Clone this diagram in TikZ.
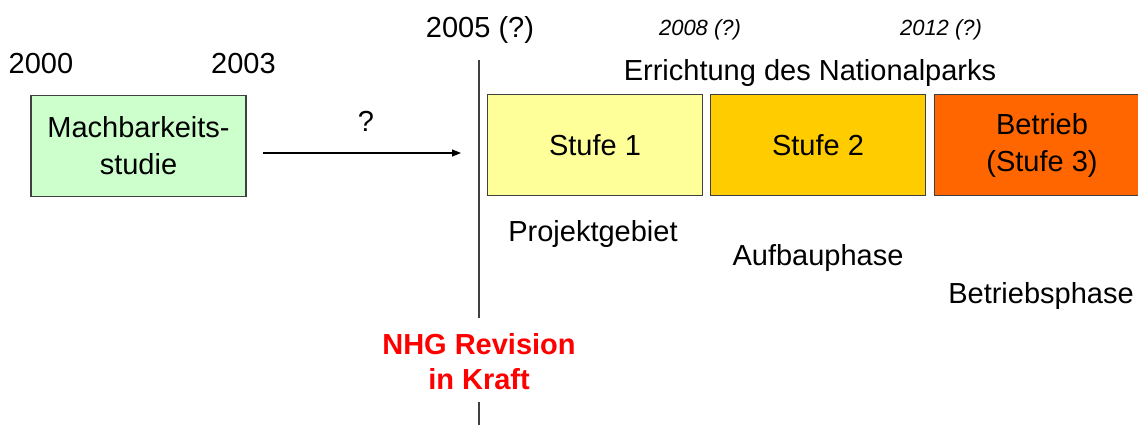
\documentclass[tikz,border=0pt]{standalone}
\usepackage{fontspec}
\setmainfont{Liberation Sans}
\usetikzlibrary{arrows.meta}
\definecolor{cgreen}{HTML}{CCFFCC}
\definecolor{cyellow}{HTML}{FFFF99}
\definecolor{cgold}{HTML}{FFCC00}
\definecolor{corange}{HTML}{FF6600}
\definecolor{cborder}{HTML}{404040}
\begin{document}
\begin{tikzpicture}[x=1pt,y=-1pt,
  stage/.style={draw=cborder,line width=1.3pt,minimum width=215pt,minimum height=101pt,inner sep=0pt,align=center,font=\fontsize{29}{37}\selectfont},
  lbl/.style={inner sep=0pt,font=\fontsize{29}{37}\selectfont,align=center},
  yr/.style={inner sep=0pt,font=\fontsize{22}{26}\selectfont\itshape},
  red/.style={inner sep=0pt,font=\fontsize{29}{35}\selectfont\bfseries,text=red,align=center}]
\useasboundingbox (0,0) rectangle (1138,425);
% boxes
\node[stage,fill=cgreen] (mach) at (138.5,146) {Machbarkeits-\\studie};
\node[stage,fill=cyellow] (s1) at (595,145) {Stufe 1};
\node[stage,fill=cgold] (s2) at (818,145) {Stufe 2};
\node[stage,fill=corange] (s3) at (1042,145) {Betrieb\\(Stufe 3)};
% year labels
\node[lbl] (y2000) at (41,64) {2000};
\node[lbl] (y2003) at (243.5,64) {2003};
\node[lbl] (y2005) at (480,30) {2005 (?)};
\node[yr] (y2008) at (700,30) {2008 (?)};
\node[yr] (y2012) at (941,30) {2012 (?)};
\node[lbl] (err) at (810,73) {Errichtung des Nationalparks};
% arrow
\coordinate (as) at (263,153);
\coordinate (ae) at (461,153);
\draw[line width=1.2pt,-{Triangle[length=9pt,width=7pt]}] (as) -- (ae);
\node[lbl] (q) at (366,121) {?};
% phase labels
\node[lbl] (pg) at (593,234) {Projektgebiet};
\node[lbl] (ap) at (818,258) {Aufbauphase};
\node[lbl] (bp) at (1041,296) {Betriebsphase};
% vertical line and NHG
\node[red] (nhg) at (479,362) {NHG Revision\\in Kraft};
\coordinate (vtop) at (479,60);
\coordinate (vm1) at (479,318);
\coordinate (vm2) at (479,402);
\coordinate (vbot) at (479,425);
\draw[cborder,line width=1.5pt] (vtop) -- (vm1);
\draw[cborder,line width=1.5pt] (vm2) -- (vbot);
\end{tikzpicture}
\end{document}
